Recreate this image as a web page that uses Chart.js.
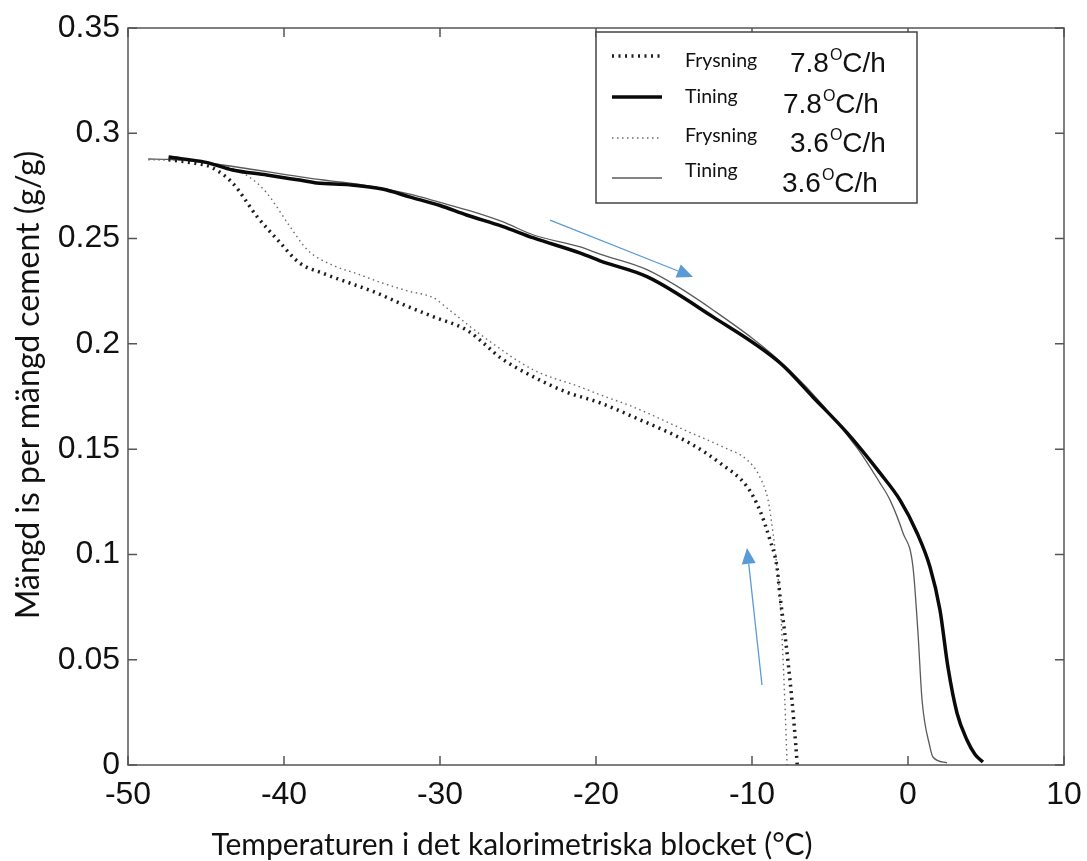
<!DOCTYPE html>
<html>
<head>
<meta charset="utf-8">
<script src="https://cdn.jsdelivr.net/npm/chart.js@4.4.1/dist/chart.umd.min.js"></script>
<style>
  body { margin: 0; background: #fff; }
  canvas { display: block; }
</style>
</head>
<body>
<canvas id="ice-chart" width="1087" height="861"></canvas>
<script>
// Frysning 7.8 °C/h : temperature (°C) and ice per cement (g/g)
const frys78Temp = [-47.4, -45.5, -44.7, -43.3, -41.7, -40.4, -39.0, -37.5, -35.8, -34.0, -32.6, -30.4, -28.3, -27.0, -26.2, -24.0, -21.9, -19.7, -17.6, -14.0, -12.05, -10.3, -9.5, -8.85, -8.4, -8.2, -7.9, -7.44, -7.2, -7.1]
const frys78Ice = [0.2874, 0.2855, 0.2840, 0.2764, 0.2602, 0.2493, 0.2384, 0.2335, 0.2289, 0.2240, 0.2194, 0.2128, 0.2066, 0.1990, 0.1938, 0.1843, 0.1771, 0.1719, 0.1653, 0.1529, 0.1434, 0.1320, 0.1210, 0.1069, 0.0940, 0.0800, 0.0627, 0.0309, 0.0100, 0.0]

// Tining 7.8 °C/h
const tin78Temp = [-47.4, -45.0, -43.3, -41.1, -40.1, -39.0, -37.9, -35.8, -33.7, -31.9, -30.0, -28.3, -26.0, -24.0, -21.0, -19.7, -16.7, -12.5, -8.2, -6.1, -3.9, -1.8, -0.51, 0.58, 1.41, 2.05, 2.56, 3.14, 3.78, 4.3, 4.8]
const tin78Ice = [0.2887, 0.2862, 0.2826, 0.2802, 0.2790, 0.2778, 0.2764, 0.2755, 0.2735, 0.2697, 0.2657, 0.2612, 0.2558, 0.2503, 0.2431, 0.2393, 0.2318, 0.2128, 0.1909, 0.1748, 0.1577, 0.1387, 0.1258, 0.1102, 0.0940, 0.0736, 0.0465, 0.0247, 0.0119, 0.0050, 0.0014]

// Frysning 3.6 °C/h
const frys36Temp = [-48.7, -46.0, -44.5, -43.3, -42.0, -41.1, -39.6, -38.5, -36.9, -35.2, -33.7, -32.0, -30.4, -29.4, -27.2, -24.0, -21.0, -19.7, -17.6, -14.0, -11.85, -10.3, -9.5, -8.97, -8.65, -8.4, -8.2, -7.9, -7.75]
const frys36Ice = [0.2874, 0.2870, 0.2855, 0.2835, 0.2780, 0.2716, 0.2555, 0.2446, 0.2374, 0.2330, 0.2289, 0.2250, 0.2218, 0.2161, 0.2033, 0.1876, 0.1795, 0.1757, 0.1700, 0.1580, 0.1510, 0.1448, 0.1368, 0.1258, 0.1100, 0.0940, 0.0780, 0.0310, 0.0]

// Tining 3.6 °C/h
const tin36Temp = [-48.7, -47.4, -45.0, -42.0, -40.0, -38.5, -36.9, -35.0, -32.0, -30.0, -28.0, -26.0, -24.0, -21.0, -19.7, -16.7, -12.5, -7.6, -3.3, -1.8, -1.15, -0.32, 0.32, 0.64, 0.9, 1.41, 1.6, 2.5]
const tin36Ice = [0.2878, 0.2876, 0.2860, 0.2828, 0.2805, 0.2788, 0.2773, 0.2755, 0.2712, 0.2672, 0.2630, 0.2580, 0.2517, 0.2460, 0.2425, 0.2351, 0.2161, 0.1876, 0.1510, 0.1340, 0.1258, 0.1102, 0.0940, 0.0627, 0.0309, 0.0085, 0.0038, 0.0010]

const xTickLabels = ['-50', '-40', '-30', '-20', '-10', '0', '10']
const yTickLabels = ['0', '0.05', '0.1', '0.15', '0.2', '0.25', '0.3', '0.35']
const seriesNames = ['Frysning', 'Tining', 'Frysning', 'Tining']
const seriesRates = ['7.8', '7.8', '3.6', '3.6']
const xTitle = 'Temperaturen i det kalorimetriska blocket (°C)'
const yTitle = 'Mängd is per mängd cement (g/g)'

// blue arrows, [x0, y0, x1, y1] in data units, head at the second point
const arrows = [
    [-22.95, 0.2588, -13.78, 0.2318],
    [-9.36, 0.0380, -10.32, 0.1031]
]

const toPoints = (xs, ys) => xs.map((x, i) => ({ x: x, y: ys[i] }))

const datasets = [
    { label: 'Frysning 7.8', data: toPoints(frys78Temp, frys78Ice), borderColor: '#1c1c1c', borderWidth: 3.5, borderDash: [2, 4.5] },
    { label: 'Tining 7.8', data: toPoints(tin78Temp, tin78Ice), borderColor: '#0a0a0a', borderWidth: 3.5, borderDash: [] },
    { label: 'Frysning 3.6', data: toPoints(frys36Temp, frys36Ice), borderColor: '#6a6a6a', borderWidth: 1.4, borderDash: [1.5, 3.5] },
    { label: 'Tining 3.6', data: toPoints(tin36Temp, tin36Ice), borderColor: '#5a5a5a', borderWidth: 1.3, borderDash: [] }
]

// box with inward tick marks on all four sides
const framePlugin = {
    id: 'frame',
    afterDatasetsDraw(chart) {
        const { ctx, chartArea: a, scales } = chart
        const len = 9
        ctx.save()
        ctx.strokeStyle = '#555'
        ctx.lineWidth = 1.5
        ctx.strokeRect(a.left, a.top, a.right - a.left, a.bottom - a.top)
        ctx.beginPath()
        scales.x.ticks.forEach(t => {
            const px = scales.x.getPixelForValue(t.value)
            ctx.moveTo(px, a.bottom); ctx.lineTo(px, a.bottom - len)
            ctx.moveTo(px, a.top); ctx.lineTo(px, a.top + len)
        })
        scales.y.ticks.forEach(t => {
            const py = scales.y.getPixelForValue(t.value)
            ctx.moveTo(a.left, py); ctx.lineTo(a.left + len, py)
            ctx.moveTo(a.right, py); ctx.lineTo(a.right - len, py)
        })
        ctx.stroke()
        ctx.restore()
    }
}

const arrowPlugin = {
    id: 'arrows',
    afterDatasetsDraw(chart) {
        const { ctx, scales } = chart
        ctx.save()
        ctx.strokeStyle = '#5b9bd5'
        ctx.fillStyle = '#5b9bd5'
        ctx.lineWidth = 1.3
        arrows.forEach(([x0, y0, x1, y1]) => {
            const ax = scales.x.getPixelForValue(x0), ay = scales.y.getPixelForValue(y0)
            const bx = scales.x.getPixelForValue(x1), by = scales.y.getPixelForValue(y1)
            const ang = Math.atan2(by - ay, bx - ax)
            const head = 16, half = 7
            const hx = bx - head * Math.cos(ang), hy = by - head * Math.sin(ang)
            ctx.beginPath()
            ctx.moveTo(ax, ay); ctx.lineTo(hx, hy)
            ctx.stroke()
            ctx.beginPath()
            ctx.moveTo(bx, by)
            ctx.lineTo(hx + half * Math.sin(ang), hy - half * Math.cos(ang))
            ctx.lineTo(hx - half * Math.sin(ang), hy + half * Math.cos(ang))
            ctx.closePath()
            ctx.fill()
        })
        ctx.restore()
    }
}

// legend box plus the two axis titles
const legendPlugin = {
    id: 'boxLegend',
    afterDraw(chart) {
        const { ctx } = chart
        ctx.save()
        ctx.fillStyle = '#fff'
        ctx.fillRect(596, 32, 321, 171)
        ctx.strokeStyle = '#444'
        ctx.lineWidth = 1.5
        ctx.strokeRect(596, 32, 321, 171)

        const lineY = [56, 97, 138, 178]
        const nameBase = [67, 103, 142, 177]
        const rateX = [790, 783, 790, 782]
        const rateBase = [72, 113, 152, 192]
        datasets.forEach((ds, i) => {
            ctx.beginPath()
            ctx.strokeStyle = ds.borderColor
            ctx.lineWidth = ds.borderWidth
            ctx.setLineDash(ds.borderDash)
            ctx.moveTo(612, lineY[i]); ctx.lineTo(662, lineY[i])
            ctx.stroke()
            ctx.setLineDash([])

            ctx.fillStyle = '#111'
            ctx.textBaseline = 'alphabetic'
            ctx.textAlign = 'left'
            ctx.font = '19.5px Lato'
            ctx.fillText(seriesNames[i], 685, nameBase[i])

            let x = rateX[i]
            ctx.font = '28px "Liberation Sans"'
            ctx.fillText(seriesRates[i], x, rateBase[i])
            x += ctx.measureText(seriesRates[i]).width
            ctx.font = '16px "Liberation Sans"'
            ctx.fillText('O', x + 1, rateBase[i] - 12)
            x += ctx.measureText('O').width + 1
            ctx.font = '28px "Liberation Sans"'
            ctx.fillText('C/h', x, rateBase[i])
        })

        ctx.fillStyle = '#111'
        ctx.textAlign = 'center'
        ctx.textBaseline = 'middle'
        ctx.font = '30px Lato'
        ctx.fillText(xTitle, 512, 845)
        ctx.font = '32px Lato'
        ctx.translate(29, 385)
        ctx.rotate(-Math.PI / 2)
        ctx.fillText(yTitle, 0, 0)
        ctx.restore()
    }
}

new Chart(document.getElementById('ice-chart'), {
    type: 'line',
    data: { datasets: datasets },
    options: {
        responsive: false,
        animation: false,
        layout: { padding: { top: 28, right: 23, left: 0, bottom: 0 } },
        elements: {
            point: { radius: 0 },
            line: { cubicInterpolationMode: 'monotone', fill: false }
        },
        plugins: { legend: { display: false }, tooltip: { enabled: false } },
        scales: {
            x: {
                type: 'linear',
                min: -50, max: 10,
                grid: { display: false },
                border: { display: false },
                afterFit: (scale) => {
                    scale.height = 96
                    scale.paddingLeft = 0
                    scale.paddingRight = 0
                },
                ticks: {
                    stepSize: 10,
                    padding: 3,
                    color: '#111',
                    font: { family: 'Liberation Sans', size: 32 },
                    maxRotation: 0,
                    autoSkip: false,
                    callback: (value, index) => xTickLabels[index]
                }
            },
            y: {
                min: 0, max: 0.35,
                grid: { display: false },
                border: { display: false },
                afterFit: (scale) => {
                    scale.width = 128
                    scale.paddingTop = 0
                    scale.paddingBottom = 0
                },
                ticks: {
                    stepSize: 0.05,
                    padding: 0,
                    color: '#111',
                    font: { family: 'Liberation Sans', size: 32 },
                    autoSkip: false,
                    callback: (value, index) => yTickLabels[index]
                }
            }
        }
    },
    plugins: [framePlugin, arrowPlugin, legendPlugin]
})
</script>
</body>
</html>
